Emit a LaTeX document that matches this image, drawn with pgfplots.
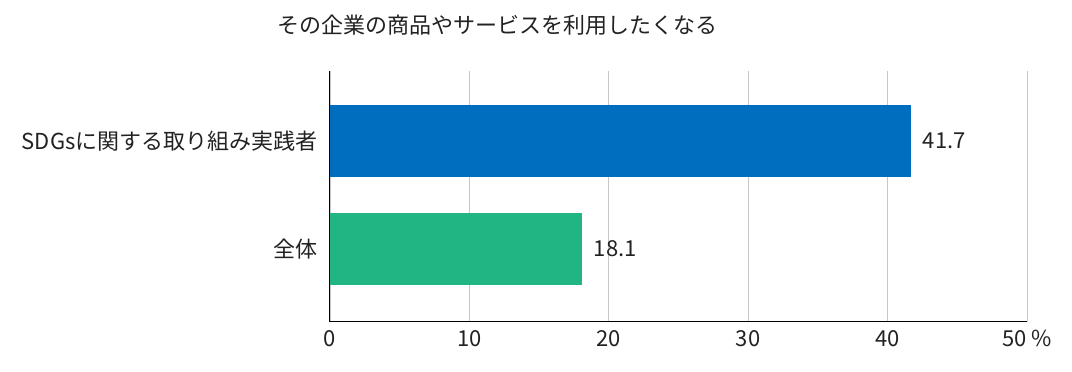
\documentclass[border=0pt]{standalone}
\usepackage{fontspec}
\setmainfont{Noto Sans CJK JP}
\usepackage{pgfplots}
\pgfplotsset{compat=1.18}
\definecolor{barblue}{RGB}{0,110,190}
\definecolor{bargreen}{RGB}{34,181,132}
\definecolor{txt}{RGB}{34,34,34}
\newcommand{\cf}{\fontsize{22}{25}\selectfont}
\begin{document}
\begin{tikzpicture}[x=1pt,y=1pt]
\useasboundingbox (0,0) rectangle (1072,372);
\node[font=\cf, text=txt] at (497,347) {その企業の商品やサービスを利用したくなる};
\begin{axis}[
  at={(330pt,50pt)}, anchor=south west,
  scale only axis, width=697pt, height=251pt,
  xmin=0, xmax=50, ymin=-0.676, ymax=1.648,
  xbar, bar width=72pt, bar shift=0pt,
  xtick={0,10,20,30,40,50},
  xticklabels={0,10,20,30,40,50 \%},
  ytick={0,1},
  yticklabels={全体,SDGsに関する取り組み実践者},
  major tick length=0pt,
  xmajorgrids, grid style={draw=black!22, line width=0.8pt},
  axis x line*=bottom, axis y line*=left,
  axis line style={-, black, line width=1pt},
  ticklabel style={font=\cf, text=txt},
  xticklabel style={yshift=-5pt},
  yticklabel style={xshift=-9pt},
  /pgf/number format/assume math mode=true,
  nodes near coords,
  nodes near coords style={font=\cf, text=txt, anchor=west, xshift=8pt},
  clip=false,
]
\addplot[fill=barblue, draw=none] coordinates {(41.7,1)};
\addplot[fill=bargreen, draw=none] coordinates {(18.1,0)};
\end{axis}
\end{tikzpicture}
\end{document}
